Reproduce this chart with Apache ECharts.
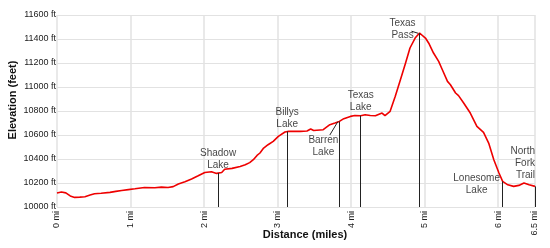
<!DOCTYPE html>
<html><head><meta charset="utf-8">
<script src="https://cdn.jsdelivr.net/npm/echarts@6/dist/echarts.min.js"></script>
<style>html,body{margin:0;padding:0;background:#fff}#c{width:550px;height:248px}</style>
</head><body><div id="c"></div>
<script>
var dist = [0.00,0.06,0.12,0.18,0.24,0.31,0.38,0.45,0.51,0.60,0.72,0.80,0.88,0.97,1.06,1.19,1.33,1.42,1.51,1.58,1.65,1.74,1.83,1.92,2.01,2.10,2.17,2.19,2.24,2.28,2.38,2.49,2.56,2.62,2.67,2.72,2.76,2.81,2.87,2.94,3.01,3.10,3.15,3.31,3.40,3.45,3.49,3.62,3.71,3.78,3.84,3.90,3.99,4.05,4.13,4.19,4.26,4.33,4.42,4.46,4.53,4.60,4.67,4.74,4.80,4.87,4.93,5.01,5.06,5.12,5.19,5.24,5.31,5.35,5.42,5.46,5.53,5.62,5.71,5.80,5.87,5.94,6.01,6.06,6.13,6.21,6.28,6.35,6.42,6.50];
var elev = [10117,10125,10118,10092,10080,10082,10086,10100,10111,10115,10122,10130,10138,10145,10152,10163,10161,10166,10163,10170,10192,10210,10233,10260,10288,10294,10280,10284,10288,10315,10322,10338,10352,10370,10394,10430,10450,10491,10519,10547,10588,10625,10630,10630,10633,10650,10638,10644,10686,10700,10713,10736,10755,10762,10761,10769,10762,10761,10783,10761,10797,10922,11061,11200,11325,11408,11450,11408,11360,11283,11213,11144,11047,11019,10950,10928,10867,10783,10672,10622,10533,10394,10283,10213,10185,10172,10180,10200,10185,10172];
var markerNames = ['Shadow\nLake','Billys\nLake','Barren\nLake','Texas\nLake','Texas\nPass','Lonesome\nLake','North\nFork\nTrail'];
var markerMi = [2.19, 3.13, 3.84, 4.13, 4.93, 6.06, 6.50];
var markerFt = [10284, 10630, 10713, 10761, 11450, 10213, 10172];
var yMin = 10000, yMax = 11600, yStep = 200;
var xMin = 0, xMax = 6.5, xStep = 1;

var FONT = 'Liberation Sans, Arial, sans-serif';
var chart = echarts.init(document.getElementById('c'), null, {renderer:'canvas'});

var profile = dist.map(function(d,i){return [d, elev[i]];});

// label placement styles per marker
var labelStyles = [
  {position:'top', distance:2, align:'center'},
  {position:'top', distance:1, align:'center'},
  {position:'inside', offset:[-16,25], align:'center'},
  {position:'top', distance:2, align:'center'},
  {position:'inside', offset:[-17,-4], align:'center'},
  {position:'inside', offset:[-26,3], align:'center'},
  {position:'inside', offset:[-12,-23], align:'right'}
];

var markerPts = markerMi.map(function(m,i){
  var ls = labelStyles[i];
  var lab = {show:true, formatter: markerNames[i], fontFamily:FONT, fontSize:10, lineHeight:12, color:'#111', align:ls.align, verticalAlign:'middle'};
  if (ls.position==='top'){ lab.position='top'; lab.distance=ls.distance; lab.verticalAlign='bottom'; }
  else { lab.position='inside'; lab.offset=ls.offset; }
  if (i===6){ lab.position=[0,0]; lab.offset=[0,-23]; lab.align='right'; }
  return {value:[m, markerFt[i]], label:lab};
});

var vlines = markerMi.map(function(m,i){
  return [{coord:[m, yMin]},{coord:[m, markerFt[i]]}];
});

chart.setOption({
  animation:false,
  grid:{left:57, right:15, top:15, bottom:41, containLabel:false},
  xAxis:{type:'value', min:xMin, max:xMax, interval:xStep,
    axisLine:{show:false}, axisTick:{show:false},
    splitLine:{show:true, lineStyle:{color:'#e2e2e2', width:1.5}},
    axisLabel:{rotate:90, margin:4, fontFamily:FONT, fontSize:9, color:'#222', showMaxLabel:true,
      formatter:function(v){return v+' mi';}}
  },
  yAxis:{type:'value', min:yMin, max:yMax, interval:yStep,
    axisLine:{show:false}, axisTick:{show:false},
    splitLine:{show:true, lineStyle:{color:'#e2e2e2', width:1}},
    axisLabel:{margin:1, fontFamily:FONT, fontSize:9, color:'#222',
      formatter:function(v){return v+' ft';}}
  },
  graphic:[
    {type:'text', x:13, y:100, rotation:Math.PI/2, style:{text:'Elevation (feet)', font:'bold 11px '+FONT, fill:'#111', align:'center', verticalAlign:'middle'}},
    {type:'text', x:305, y:235, style:{text:'Distance (miles)', font:'bold 11px '+FONT, fill:'#111', align:'center', verticalAlign:'middle'}}
  ],
  series:[
    {type:'line', data:profile, showSymbol:false, symbol:'none', z:3,
      lineStyle:{color:'#ee0000', width:1.6},
      markLine:{silent:true, symbol:['none','none'], label:{show:false},
        lineStyle:{color:'#222', width:1, type:'solid'}, data:vlines}
    },
    {type:'scatter', data:markerPts, symbolSize:0, z:4, silent:true,
      markLine:{silent:true, symbol:['none','none'], label:{show:false},
        lineStyle:{color:'#222', width:1, type:'solid'},
        data:[
          [{coord:[3.71, 10600]},{coord:[3.82, 10712]}],
          [{coord:[4.82, 11465]},{coord:[4.91, 11448]}]
        ]}
    }
  ]
});
</script></body></html>
